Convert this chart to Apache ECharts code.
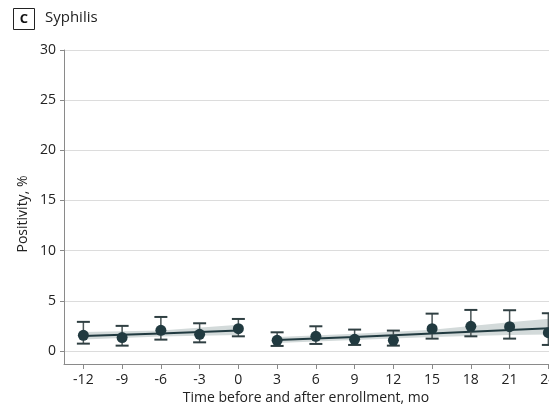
<!DOCTYPE html>
<html>
<head>
<meta charset="utf-8">
<style>
  html, body { margin: 0; padding: 0; background: #fff; }
  #chart { width: 549px; height: 412px; }
</style>
<script src="https://cdn.jsdelivr.net/npm/echarts@6/dist/echarts.min.js"></script>
</head>
<body>
<div id="chart"></div>
<script>
// Monthly syphilis positivity around enrollment
const months = [-12, -9, -6, -3, 0, 3, 6, 9, 12, 15, 18, 21, 24];
const positivity = [1.56, 1.33, 2.06, 1.66, 2.22, 1.06, 1.46, 1.16, 1.06, 2.22, 2.46, 2.42, 1.82];
const ciLow  = [0.73, 0.53, 1.13, 0.86, 1.46, 0.50, 0.70, 0.60, 0.53, 1.23, 1.46, 1.23, 0.60];
const ciHigh = [2.90, 2.50, 3.39, 2.76, 3.19, 1.86, 2.46, 2.13, 2.03, 3.72, 4.09, 4.06, 3.76];

// Fitted trends (pre- and post-enrollment) with confidence bands
const preMonths = [-12, -6, 0];
const preFit = [1.48, 1.75, 2.05];
const preLow = [1.15, 1.45, 1.60];
const preHigh = [1.88, 2.05, 2.62];

const postMonths = [3, 9, 15, 21, 25.5];
const postFit = [1.08, 1.40, 1.74, 2.08, 2.34];
const postLow = [0.80, 1.08, 1.38, 1.58, 1.68];
const postHigh = [1.40, 1.72, 2.12, 2.85, 3.40];

const xTicks = [-12, -9, -6, -3, 0, 3, 6, 9, 12, 15, 18, 21, 24];
const yTicks = [0, 5, 10, 15, 20, 25, 30];

const FONT = '"Open Sans", "Noto Sans", sans-serif';
const DARK = '#213a40';
const BAND = '#d3dada';
const AXIS = '#8a8a8a';

function pairs(xs, ys) { return xs.map((x, i) => [x, ys[i]]); }

// Confidence band drawn as a closed polygon through the axis scales
function bandSeries(xs, lo, hi) {
  return {
    type: 'custom', z: 1, silent: true,
    data: [0],
    clip: true,
    renderItem: function (params, api) {
      const upper = xs.map((x, i) => api.coord([x, hi[i]]));
      const lower = xs.map((x, i) => api.coord([x, lo[i]])).reverse();
      return {
        type: 'polygon',
        shape: { points: upper.concat(lower) },
        style: { fill: BAND }
      };
    }
  };
}

const errorData = months.map((m, i) => [m, ciLow[i], ciHigh[i]]);

const chart = echarts.init(document.getElementById('chart'), null, { renderer: 'canvas' });

chart.setOption({
  animation: false,
  backgroundColor: '#fff',
  grid: { left: 64, top: 50, right: 0, bottom: 48, containLabel: false, outerBoundsMode: 'none' },
  xAxis: {
    type: 'value', min: -13.5, max: 24.05,
    axisLine: { show: true, onZero: false, lineStyle: { color: AXIS, width: 1 } },
    axisTick: { show: true, length: 5, lineStyle: { color: AXIS }, customValues: xTicks },
    axisLabel: { customValues: xTicks, color: '#222', fontSize: 14, fontFamily: FONT, margin: 9, hideOverlap: false },
    splitLine: { show: false }
  },
  yAxis: {
    type: 'value', min: -1.3, max: 30,
    axisLine: { show: true, onZero: false, lineStyle: { color: AXIS, width: 1 } },
    axisTick: { show: true, length: 4, lineStyle: { color: AXIS }, customValues: yTicks },
    axisLabel: { customValues: yTicks, color: '#222', fontSize: 14, fontFamily: FONT, margin: 8 },
    splitLine: { show: true, lineStyle: { color: '#dcdcdc', width: 1 } }
  },
  graphic: [
    { type: 'rect', shape: { x: 13.5, y: 8.5, width: 21, height: 21 },
      style: { fill: '#fff', stroke: '#222', lineWidth: 1 } },
    { type: 'text', x: 24, y: 19,
      style: { text: 'C', font: 'bold 13px ' + FONT, fill: '#111', align: 'center', verticalAlign: 'middle' } },
    { type: 'text', x: 45, y: 18,
      style: { text: 'Syphilis', font: '15px ' + FONT, fill: '#222', align: 'left', verticalAlign: 'middle' } },
    { type: 'text', x: 23, y: 214, rotation: Math.PI / 2,
      style: { text: 'Positivity, %', font: '14px ' + FONT, fill: '#222', align: 'center', verticalAlign: 'middle' } },
    { type: 'text', x: 306, y: 398,
      style: { text: 'Time before and after enrollment, mo', font: '14px ' + FONT, fill: '#222', align: 'center', verticalAlign: 'middle' } }
  ],
  series: [
    bandSeries(preMonths, preLow, preHigh),
    bandSeries(postMonths, postLow, postHigh),
    {
      type: 'line', data: pairs(preMonths, preFit), symbol: 'none',
      lineStyle: { color: DARK, width: 2 }, z: 3
    },
    {
      type: 'line', data: pairs(postMonths, postFit), symbol: 'none',
      lineStyle: { color: DARK, width: 2 }, z: 3
    },
    {
      type: 'custom', z: 4,
      data: errorData,
      renderItem: function (params, api) {
        const x = api.value(0);
        const lo = api.coord([x, api.value(1)]);
        const hi = api.coord([x, api.value(2)]);
        const half = 6.5;
        const st = { stroke: '#4a5557', lineWidth: 1.5 };
        return {
          type: 'group',
          children: [
            { type: 'line', shape: { x1: lo[0], y1: lo[1], x2: hi[0], y2: hi[1] }, style: st },
            { type: 'line', shape: { x1: lo[0] - half, y1: lo[1], x2: lo[0] + half, y2: lo[1] }, style: { stroke: '#2f3f42', lineWidth: 2 } },
            { type: 'line', shape: { x1: hi[0] - half, y1: hi[1], x2: hi[0] + half, y2: hi[1] }, style: { stroke: '#2f3f42', lineWidth: 2 } }
          ]
        };
      }
    },
    {
      type: 'scatter', data: pairs(months, positivity), symbol: 'circle', symbolSize: 11,
      itemStyle: { color: DARK, opacity: 1 }, z: 5
    }
  ]
});
</script>
</body>
</html>
